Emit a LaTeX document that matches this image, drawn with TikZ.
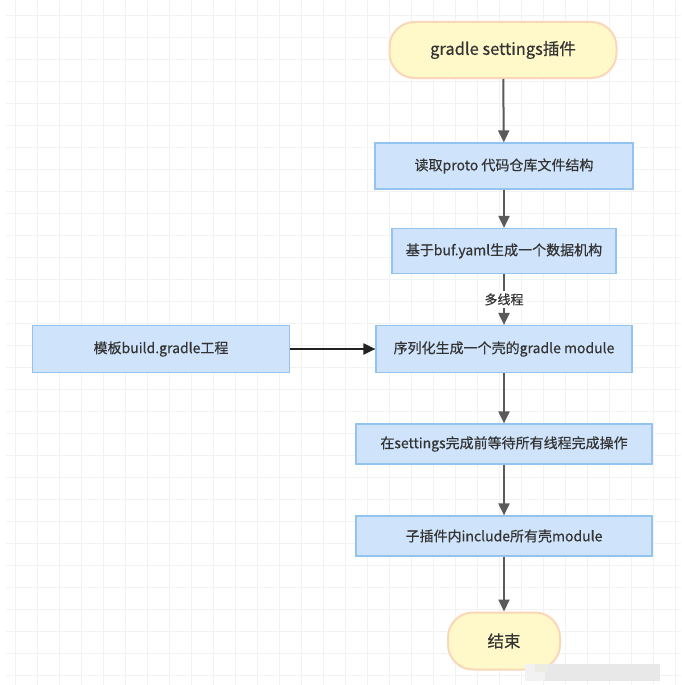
\documentclass[tikz,border=0pt]{standalone}
\usepackage{fontspec}
\setmainfont{Noto Sans CJK SC}[FakeBold=0.4]
\usetikzlibrary{arrows.meta}
\definecolor{gridc}{HTML}{F2F2F2}
\definecolor{boxfill}{HTML}{CFE4FA}
\definecolor{boxdraw}{HTML}{93C3EF}
\definecolor{pillfill}{HTML}{FFF8C9}
\definecolor{pilldraw}{HTML}{FAD7B8}
\definecolor{txt}{HTML}{333333}
\definecolor{arrowc}{HTML}{5A5A5A}
\definecolor{darkarrow}{HTML}{222222}
\begin{document}
\begin{tikzpicture}[x=1pt,y=-1pt,
  gridline/.style={draw=gridc,line width=0.8pt},
  stepbox/.style={draw=boxdraw,fill=boxfill,line width=1.2pt,inner sep=0pt,text=txt,font=\fontsize{14}{16}\selectfont},
  pill/.style={draw=pilldraw,fill=pillfill,line width=2pt,rounded corners=25pt,inner sep=0pt,text=txt,font=\fontsize{16.5}{18}\selectfont},
  flow/.style={draw=arrowc,line width=2pt,-{Triangle[length=12pt,width=11pt]}},
  flowdark/.style={draw=darkarrow,line width=2pt,-{Triangle[length=12pt,width=11pt]}},
  lab/.style={fill=white,inner sep=2pt,text=txt,font=\fontsize{13}{15}\selectfont}]
\useasboundingbox (0,0) rectangle (681,685);
\fill[white] (0,0) rectangle (681,685);
\foreach \x in {15,37,...,680} \draw[gridline] (\x,0) -- (\x,685);
\foreach \y in {15,37,...,684} \draw[gridline] (6,\y) -- (681,\y);

\node[pill,minimum width=227pt,minimum height=56pt] (start) at (503,50) {gradle settings插件};
\node[stepbox,minimum width=258pt,minimum height=46pt] (read) at (504,166) {读取proto 代码仓库文件结构};
\node[stepbox,minimum width=224pt,minimum height=45pt] (buf) at (504,251) {基于buf.yaml生成一个数据机构};
\node[stepbox,minimum width=256pt,minimum height=47pt] (ser) at (504,349) {序列化生成一个壳的gradle module};
\node[stepbox,minimum width=257pt,minimum height=47pt] (tpl) at (161,349) {模板build.gradle工程};
\node[stepbox,minimum width=296pt,minimum height=40pt] (wait) at (504,444) {在settings完成前等待所有线程完成操作};
\node[stepbox,minimum width=296pt,minimum height=40pt] (incl) at (504,536) {子插件内include所有壳module};
\node[pill,minimum width=112pt,minimum height=57pt] (end) at (504,641) {结束};

\draw[flow] (start) -- (read);
\draw[flow] (read) -- (buf);
\draw[flow] (buf) -- node[lab] (mt) {多线程} (ser);
\draw[flowdark] (tpl) -- (ser);
\draw[flow] (ser) -- (wait);
\draw[flow] (wait) -- (incl);
\draw[flow] (incl) -- (end);

% blurred watermark patch
\fill[black!9] (525,664) rectangle (660,681);
\fill[black!5] (525,664) rectangle (545,681);
\fill[yellow!30!black!12] (535,664) rectangle (548,672);
\end{tikzpicture}
\end{document}
